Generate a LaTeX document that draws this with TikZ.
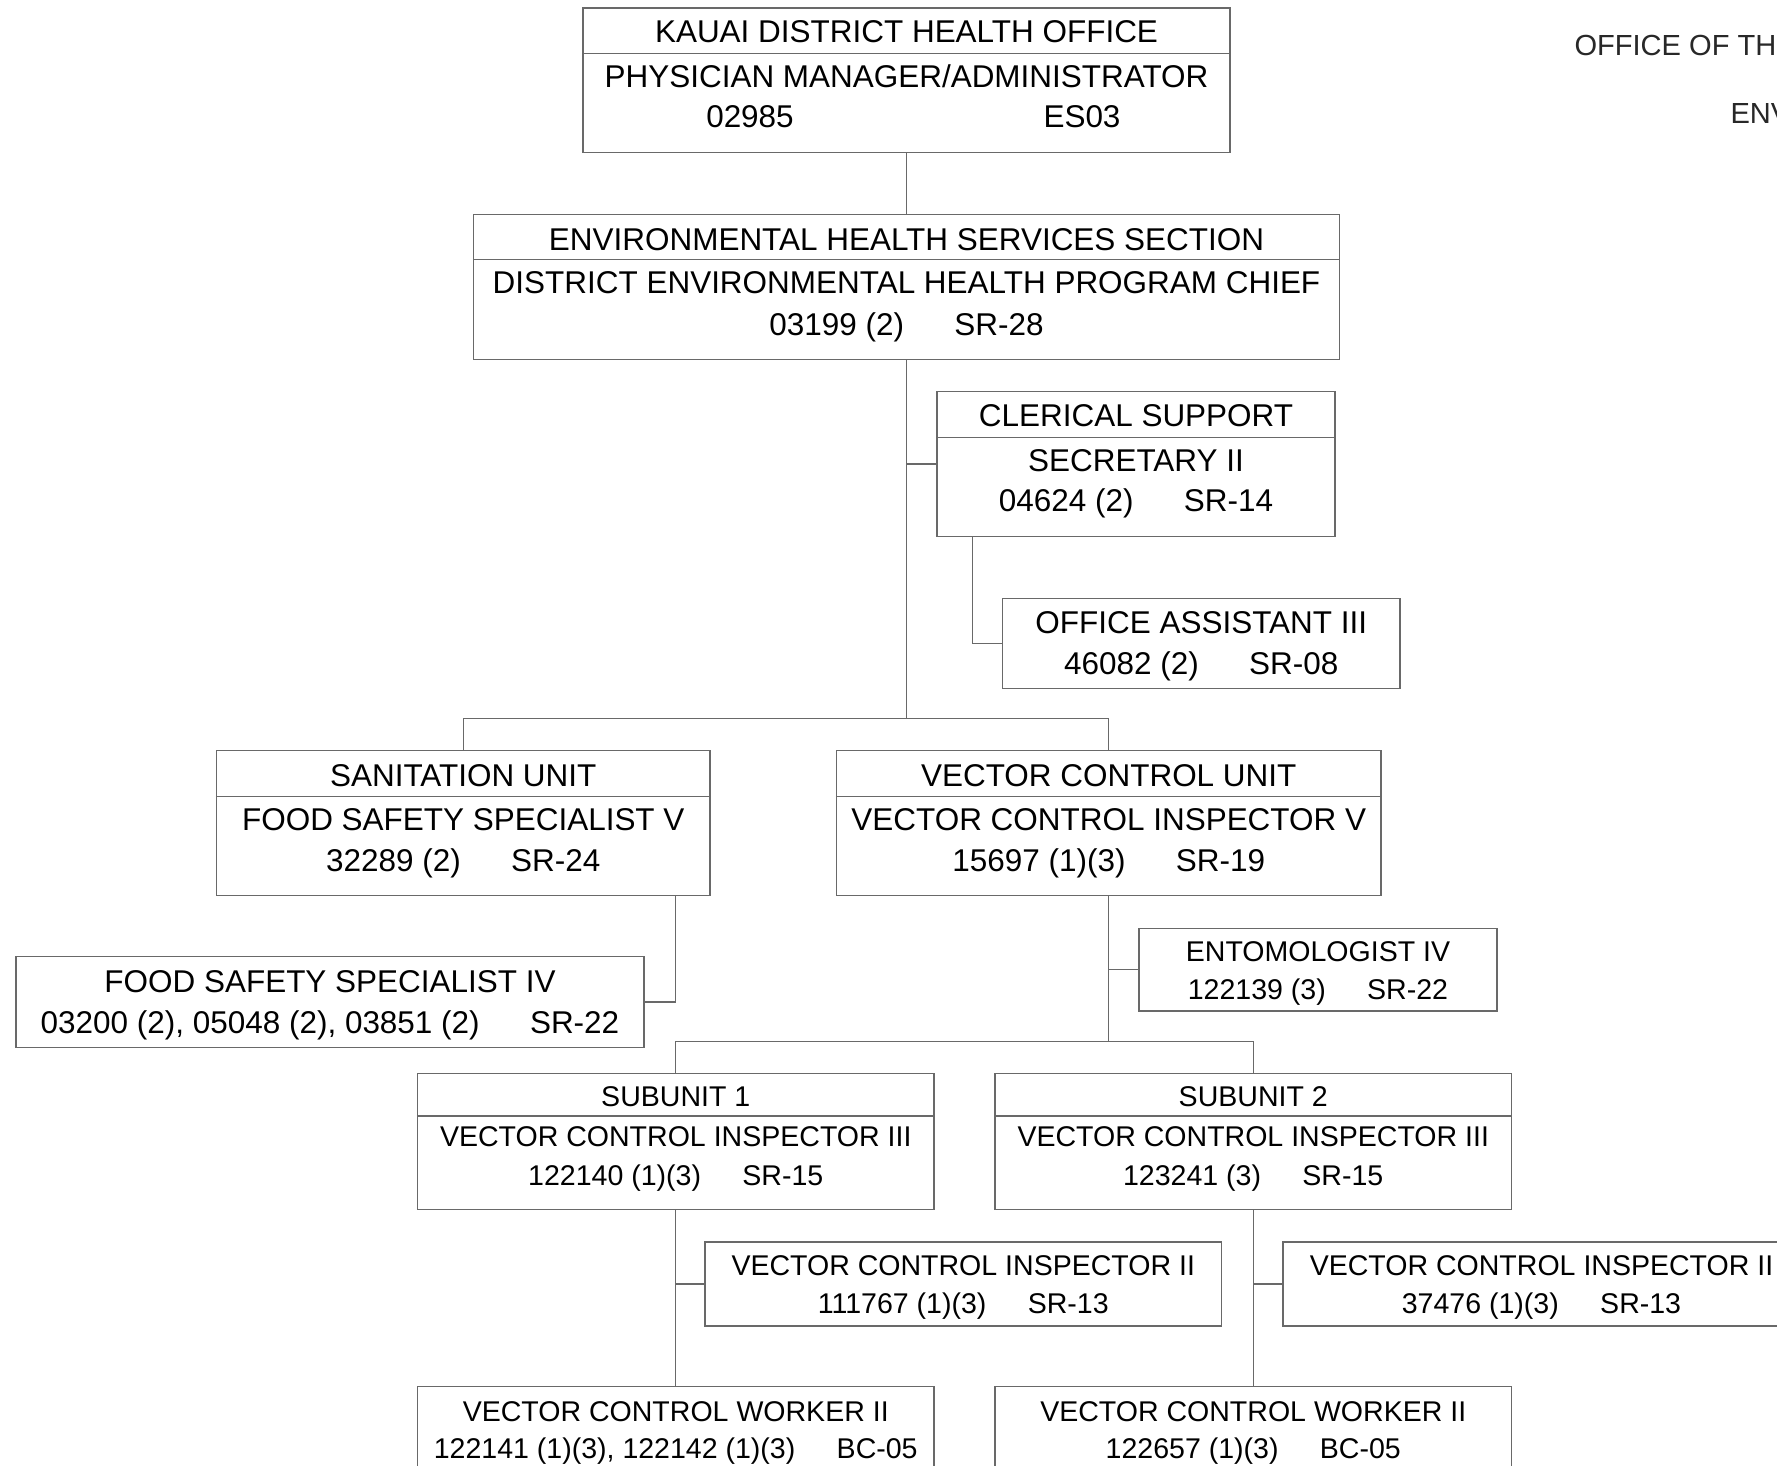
\documentclass[tikz,border=0pt]{standalone}
\usepackage{fontspec}
\setmainfont{Liberation Sans}
\usetikzlibrary{fit}

\tikzset{every picture/.style={line width=0.75pt}}
\tikzset{
  orgbox/.style={draw={rgb, 255:red, 105; green, 105; blue, 105}, line width=1pt, inner sep=0pt},
  orgline/.style={draw={rgb, 255:red, 105; green, 105; blue, 105}, line width=1pt},
  bigtext/.style={font=\fontsize{23.6}{28}\selectfont, text height=16.9pt, text depth=0pt, inner sep=0pt},
  smalltext/.style={font=\fontsize{21.4}{26}\selectfont, text height=15.3pt, text depth=0pt, inner sep=0pt},
  headtext/.style={font=\fontsize{21.8}{26}\selectfont, text height=15.6pt, text depth=0pt, inner sep=0pt, anchor=west, text={rgb, 255:red, 40; green, 40; blue, 40}},
}
\newcommand{\gapbig}{\hspace{1.6em}}
\newcommand{\gapsmall}{\hspace{1.45em}}

\begin{document}
\begin{tikzpicture}[x=0.75pt,y=0.75pt,yscale=-1,xscale=1]
	\fill[white] (0,0) rectangle (1777,1465);
	\useasboundingbox (0,0) rectangle (1777,1465);
	\clip (0,0) rectangle (1777,1465);

	%Shape: Rectangle [kauai]
	\node[orgbox, fit={(583,8) (1230,152.5)}] (kauai) {};
	\draw[orgline] (kauai.west |- 0,53.5) -- (kauai.east |- 0,53.5);
	%Shape: Rectangle [ehs]
	\node[orgbox, fit={(473.5,214.3) (1339.5,359.3)}] (ehs) {};
	\draw[orgline] (ehs.west |- 0,259.5) -- (ehs.east |- 0,259.5);
	%Shape: Rectangle [clerical]
	\node[orgbox, fit={(937,391.5) (1335,536.5)}] (cler) {};
	\draw[orgline] (cler.west |- 0,437.5) -- (cler.east |- 0,437.5);
	%Shape: Rectangle [office assistant]
	\node[orgbox, fit={(1002.5,598.4) (1400,688.2)}] (offasst) {};
	%Shape: Rectangle [sanitation]
	\node[orgbox, fit={(216.5,750.3) (710,895.3)}] (sanit) {};
	\draw[orgline] (sanit.west |- 0,796.7) -- (sanit.east |- 0,796.7);
	%Shape: Rectangle [vector]
	\node[orgbox, fit={(836.5,750.3) (1381,895.3)}] (vect) {};
	\draw[orgline] (vect.west |- 0,796.7) -- (vect.east |- 0,796.7);
	%Shape: Rectangle [food safety iv]
	\node[orgbox, fit={(16,956.7) (644,1047.3)}] (fssiv) {};
	%Shape: Rectangle [entomologist]
	\node[orgbox, fit={(1139,928.2) (1497,1010.9)}] (ento) {};
	%Shape: Rectangle [subunit 1]
	\node[orgbox, fit={(417.5,1073.3) (934,1209.5)}] (subone) {};
	\draw[orgline] (subone.west |- 0,1116) -- (subone.east |- 0,1116);
	%Shape: Rectangle [subunit 2]
	\node[orgbox, fit={(995,1073.3) (1511.5,1209.5)}] (subtwo) {};
	\draw[orgline] (subtwo.west |- 0,1116) -- (subtwo.east |- 0,1116);
	%Shape: Rectangle [inspector ii, 1]
	\node[orgbox, fit={(705,1242) (1221.5,1326)}] (vcione) {};
	%Shape: Rectangle [inspector ii, 2]
	\node[orgbox, fit={(1283,1242) (1800,1326)}] (vcitwo) {};
	%Shape: Rectangle [worker ii, 1]
	\node[orgbox, fit={(417.5,1386.5) (934,1472)}] (vcwone) {};
	%Shape: Rectangle [worker ii, 2]
	\node[orgbox, fit={(995,1386.5) (1511.5,1472)}] (vcwtwo) {};

	%Straight Lines
	\coordinate (barone) at (906.5,718.5);
	\coordinate (clerdrop) at (972.4,536.5);
	\coordinate (sandrop) at (675.5,895.3);
	\coordinate (bartwo) at (1108.75,1041.5);
	\draw[orgline] (kauai.south) -- (ehs.north);
	\draw[orgline] (ehs.south) -- (barone);
	\draw[orgline] (ehs.south |- cler.west) -- (cler.west);
	\draw[orgline] (clerdrop) -- (clerdrop |- offasst.west) -- (offasst.west);
	\draw[orgline] (sanit.north) -- (sanit.north |- barone) -- (vect.north |- barone) -- (vect.north);
	\draw[orgline] (sandrop) -- (sandrop |- fssiv.east) -- (fssiv.east);
	\draw[orgline] (vect.south) -- (bartwo);
	\draw[orgline] (vect.south |- ento.west) -- (ento.west);
	\draw[orgline] (subone.north) -- (subone.north |- bartwo) -- (subtwo.north |- bartwo) -- (subtwo.north);
	\draw[orgline] (subone.south) -- (vcwone.north);
	\draw[orgline] (subone.south |- vcione.west) -- (vcione.west);
	\draw[orgline] (subtwo.south) -- (vcwtwo.north);
	\draw[orgline] (subtwo.south |- vcitwo.west) -- (vcitwo.west);

	% Text Node
	\node[headtext] (offhead) at (1574,45) {OFFICE OF TH};
	% Text Node
	\node[headtext] (envhead) at (1730,113) {ENV};
	% Text Node
	\node[bigtext] (kauaiA) at (906.5,31.5) {KAUAI DISTRICT HEALTH OFFICE};
	\node[bigtext] (kauaiB) at (906.5,76) {PHYSICIAN MANAGER/ADMINISTRATOR};
	\node[bigtext] (kauaiC) at (750,116) {02985};
	\node[bigtext] (kauaiD) at (1082,116) {ES03};
	% Text Node
	\node[bigtext] (ehsA) at (906.5,239.5) {ENVIRONMENTAL HEALTH SERVICES SECTION};
	\node[bigtext] (ehsB) at (906.5,282) {DISTRICT ENVIRONMENTAL HEALTH PROGRAM CHIEF};
	\node[bigtext] (ehsC) at (906.5,324) {03199 (2)\gapbig SR-28};
	% Text Node
	\node[bigtext] (clerA) at (1136,414.8) {CLERICAL SUPPORT};
	\node[bigtext] (clerB) at (1136,460.2) {SECRETARY II};
	\node[bigtext] (clerC) at (1136,500.2) {04624 (2)\gapbig SR-14};
	% Text Node
	\node[bigtext] (offasstA) at (1201.25,622) {OFFICE ASSISTANT III};
	\node[bigtext] (offasstB) at (1201.25,663.5) {46082 (2)\gapbig SR-08};
	% Text Node
	\node[bigtext] (sanitA) at (463.25,775.2) {SANITATION UNIT};
	\node[bigtext] (sanitB) at (463.25,819.4) {FOOD SAFETY SPECIALIST V};
	\node[bigtext] (sanitC) at (463.25,860.2) {32289 (2)\gapbig SR-24};
	% Text Node
	\node[bigtext] (vectA) at (1108.75,775.2) {VECTOR CONTROL UNIT};
	\node[bigtext] (vectB) at (1108.75,819.4) {VECTOR CONTROL INSPECTOR V};
	\node[bigtext] (vectC) at (1108.75,860.2) {15697 (1)(3)\gapbig SR-19};
	% Text Node
	\node[bigtext] (fssivA) at (330,981.5) {FOOD SAFETY SPECIALIST IV};
	\node[bigtext] (fssivB) at (330,1022.3) {03200 (2), 05048 (2), 03851 (2)\gapbig SR-22};
	% Text Node
	\node[smalltext] (entoA) at (1318,951) {ENTOMOLOGIST IV};
	\node[smalltext] (entoB) at (1318,989.5) {122139 (3)\gapsmall SR-22};
	% Text Node
	\node[smalltext] (suboneA) at (675.75,1096) {SUBUNIT 1};
	\node[smalltext] (suboneB) at (675.75,1136.7) {VECTOR CONTROL INSPECTOR III};
	\node[smalltext] (suboneC) at (675.75,1175.3) {122140 (1)(3)\gapsmall SR-15};
	% Text Node
	\node[smalltext] (subtwoA) at (1253.25,1096) {SUBUNIT 2};
	\node[smalltext] (subtwoB) at (1253.25,1136.7) {VECTOR CONTROL INSPECTOR III};
	\node[smalltext] (subtwoC) at (1253.25,1175.3) {123241 (3)\gapsmall SR-15};
	% Text Node
	\node[smalltext] (vcioneA) at (963.25,1265.5) {VECTOR CONTROL INSPECTOR II};
	\node[smalltext] (vcioneB) at (963.25,1303.5) {111767 (1)(3)\gapsmall SR-13};
	% Text Node
	\node[smalltext] (vcitwoA) at (1541.5,1265.5) {VECTOR CONTROL INSPECTOR II};
	\node[smalltext] (vcitwoB) at (1541.5,1303.5) {37476 (1)(3)\gapsmall SR-13};
	% Text Node
	\node[smalltext] (vcwoneA) at (675.75,1411) {VECTOR CONTROL WORKER II};
	\node[smalltext] (vcwoneB) at (675.75,1448.5) {122141 (1)(3), 122142 (1)(3)\gapsmall BC-05};
	% Text Node
	\node[smalltext] (vcwtwoA) at (1253.25,1411) {VECTOR CONTROL WORKER II};
	\node[smalltext] (vcwtwoB) at (1253.25,1448.5) {122657 (1)(3)\gapsmall BC-05};

\end{tikzpicture}
\end{document}
